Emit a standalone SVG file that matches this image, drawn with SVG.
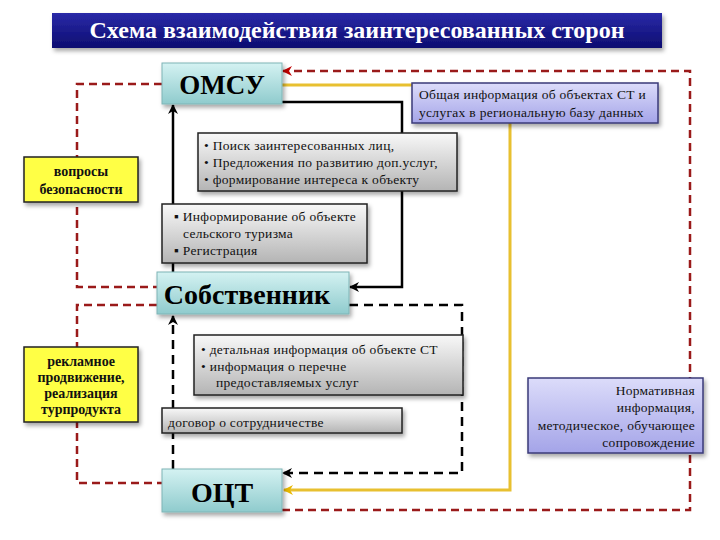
<svg xmlns="http://www.w3.org/2000/svg" width="720" height="540" viewBox="0 0 720 540">
<defs>
<linearGradient id="gTitle" x1="0" y1="0" x2="0" y2="1"><stop offset="0" stop-color="#2a2aa8"/><stop offset="1" stop-color="#0c0c70"/></linearGradient>
<linearGradient id="gTeal" x1="0" y1="0" x2="0" y2="1"><stop offset="0" stop-color="#d4f2f2"/><stop offset="1" stop-color="#8fcbcd"/></linearGradient>
<linearGradient id="gGrey" x1="0" y1="0" x2="0" y2="1"><stop offset="0" stop-color="#f8f8f8"/><stop offset="1" stop-color="#b4b4b4"/></linearGradient>
<linearGradient id="gLav" x1="0" y1="0" x2="0" y2="1"><stop offset="0" stop-color="#dcdcfa"/><stop offset="1" stop-color="#a4a4e8"/></linearGradient>
<filter id="sh" x="-10%" y="-10%" width="130%" height="140%"><feDropShadow dx="2" dy="3" stdDeviation="2" flood-color="#000" flood-opacity="0.35"/></filter>
<marker id="aBlack" viewBox="0 0 10 10" refX="9" refY="5" markerWidth="10" markerHeight="10" markerUnits="userSpaceOnUse" orient="auto"><path d="M0,0 L10,5 L0,10 L3,5 z" fill="#000"/></marker>
<marker id="aRed" viewBox="0 0 10 10" refX="9" refY="5" markerWidth="10" markerHeight="10" markerUnits="userSpaceOnUse" orient="auto"><path d="M0,0 L10,5 L0,10 L3,5 z" fill="#c00000"/></marker>
<marker id="aYel" viewBox="0 0 10 10" refX="9" refY="5" markerWidth="10" markerHeight="10" markerUnits="userSpaceOnUse" orient="auto"><path d="M0,0 L10,5 L0,10 L3,5 z" fill="#e8b800"/></marker>
<style>
text{font-family:"Liberation Serif","DejaVu Serif","Noto Serif","Times New Roman",serif}
.red{fill:none;stroke:#9a1a1a;stroke-width:2.5;stroke-dasharray:8 5}
.bd{fill:none;stroke:#000;stroke-width:2.5;stroke-dasharray:9 6}
.bs{fill:none;stroke:#000;stroke-width:2.5}
.yl{fill:none;stroke:#e8c030;stroke-width:3}
.teal{fill:url(#gTeal);stroke:#7fb4b6;stroke-width:1;filter:url(#sh)}
.grey{fill:url(#gGrey);stroke:#222;stroke-width:1.5;filter:url(#sh)}
.lav{fill:url(#gLav);stroke:#3a3a78;stroke-width:1.5;filter:url(#sh)}
.yel{fill:#ffff44;stroke:#222;stroke-width:1.5;filter:url(#sh)}
.big{font-weight:bold;fill:#000;text-anchor:middle}
.sm{font-size:13.5px;fill:#111;letter-spacing:0.3px}
.yb{font-size:14px;font-weight:bold;fill:#111;text-anchor:middle}
</style>
</defs>
<rect width="720" height="540" fill="#fff"/>
<g id="title">
<rect x="52" y="13" width="610" height="35" fill="url(#gTitle)" filter="url(#sh)"/>
<text x="357" y="38" font-size="24" font-weight="bold" fill="#fff" text-anchor="middle">Схема взаимодействия заинтересованных сторон</text>
</g>
<g id="connectors">
<path class="red" d="M282,510 H690 V71 H283" marker-end="url(#aRed)"/>
<path class="red" d="M162,84 H77 V287 H157"/>
<path class="red" d="M157,305 H77 V483 H162"/>
<path class="bs" d="M173,272 V105" marker-end="url(#aBlack)"/>
<path class="bs" d="M282,102 H402 V287 H350" marker-end="url(#aBlack)"/>
<path class="bd" d="M349,305 H462 V473 H283" marker-end="url(#aBlack)"/>
<path class="bd" d="M173,469 V316" marker-end="url(#aBlack)"/>
<path class="yl" d="M282,85 H420 M510,123 V490 H284" marker-end="url(#aYel)"/>
</g>
<g id="omsu"><rect class="teal" x="162" y="63" width="120" height="41"/><text class="big" x="222" y="94" font-size="27">ОМСУ</text></g>
<g id="sobstvennik"><rect class="teal" x="157" y="272" width="192" height="42"/><text class="big" x="247" y="304" font-size="28">Собственник</text></g>
<g id="oct"><rect class="teal" x="162" y="469" width="120" height="43"/><text class="big" x="222" y="502" font-size="28">ОЦТ</text></g>
<g id="info-general"><rect class="lav" x="412" y="83" width="246" height="40"/>
<text class="sm" x="419" y="99">Общая информация об объектах СТ и</text>
<text class="sm" x="419" y="117">услугах в региональную базу данных</text></g>
<g id="poisk"><rect class="grey" x="198" y="133" width="259" height="58"/>
<text class="sm" x="204" y="150">•  Поиск заинтересованных лиц,</text>
<text class="sm" x="204" y="167">•  Предложения по развитию доп.услуг,</text>
<text class="sm" x="204" y="184">•  формирование интереса к объекту</text></g>
<g id="inform"><rect class="grey" x="162" y="204" width="205" height="59"/>
<text class="sm" x="174" y="221">▪ Информирование об объекте</text>
<text class="sm" x="183" y="238">сельского туризма</text>
<text class="sm" x="174" y="255">▪ Регистрация</text></g>
<g id="voprosy"><rect class="yel" x="24" y="157" width="114" height="45"/>
<text class="yb" x="81" y="176">вопросы</text>
<text class="yb" x="81" y="194">безопасности</text></g>
<g id="reklama"><rect class="yel" x="24" y="347" width="114" height="75"/>
<text class="yb" x="81" y="366" font-size="13">рекламное</text>
<text class="yb" x="81" y="382" font-size="13">продвижение,</text>
<text class="yb" x="81" y="398" font-size="13">реализация</text>
<text class="yb" x="81" y="414" font-size="13">турпродукта</text></g>
<g id="detail"><rect class="grey" x="194" y="335" width="269" height="60"/>
<text class="sm" x="201" y="354">•  детальная информация об объекте СТ</text>
<text class="sm" x="201" y="371">•  информация о перечне</text>
<text class="sm" x="216" y="387">предоставляемых услуг</text></g>
<g id="dogovor"><rect class="grey" x="162" y="408" width="240" height="25"/>
<text class="sm" x="168" y="427">договор о сотрудничестве</text></g>
<g id="normativ"><rect class="lav" x="528" y="378" width="175" height="75"/>
<text class="sm" x="695" y="395" text-anchor="end">Нормативная</text>
<text class="sm" x="695" y="412" text-anchor="end">информация,</text>
<text class="sm" x="695" y="430" text-anchor="end">методическое, обучающее</text>
<text class="sm" x="695" y="447" text-anchor="end">сопровождение</text></g>
</svg>
